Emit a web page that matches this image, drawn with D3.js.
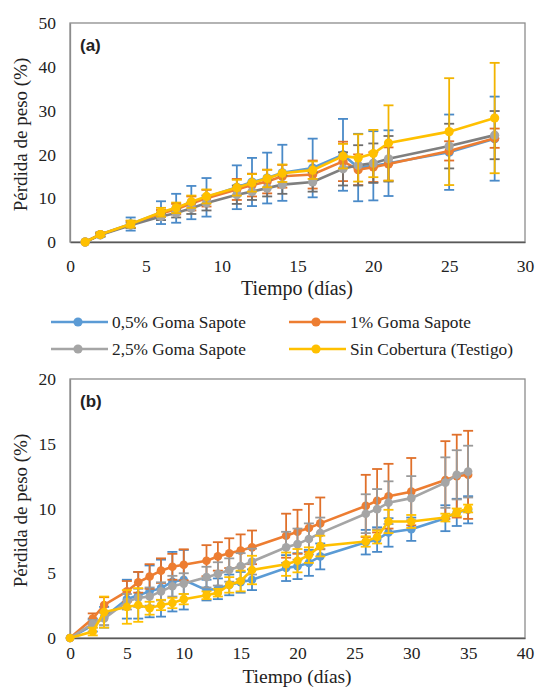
<!DOCTYPE html>
<html><head><meta charset="utf-8">
<script src="https://cdn.jsdelivr.net/npm/d3@7"></script>
<style>
body{margin:0;background:#fff;}
svg text{font-family:"Liberation Serif","Times New Roman",serif;fill:#222;}
</style></head><body>
<svg id="c" width="539" height="688"></svg>
<script>
// ---------- Panel (a) data ----------
const daysA = [1,2,4,6,7,8,9,11,12,13,14,16,18,19,20,21,25,28];
const a05 = [0,1.7,4.1,6.7,7.7,9.0,10.2,12.5,13.7,14.6,15.8,16.9,19.9,17.0,17.4,18.0,20.5,23.6];
const a05Err = [0,0.5,1.5,2.6,3.3,3.8,4.4,5.0,5.5,5.8,6.4,6.7,8.2,7.7,7.9,7.5,8.6,9.6];
const a1 = [0,1.7,4.0,6.5,7.5,8.8,10.0,12.0,13.0,13.8,15.0,15.4,18.4,16.5,17.1,17.8,20.8,23.7];
const a1Err = [0,0.4,0.8,0.8,1.2,1.6,1.9,2.4,2.6,2.7,2.6,3.2,4.5,3.5,3.4,3.8,2.2,2.2];
const a25 = [0,1.6,3.8,5.8,6.6,7.7,8.9,10.8,11.5,12.3,13.1,13.7,16.7,17.5,18.0,19.0,21.9,24.4];
const a25Err = [0,0.3,0.6,0.8,1.0,1.3,1.7,2.1,1.9,1.9,2.1,2.2,3.8,4.6,4.5,5.2,5.1,5.5];
const aTest = [0,1.7,4.1,6.8,7.8,9.2,10.4,12.4,13.5,14.5,15.7,16.4,19.6,19.2,20.2,22.6,25.2,28.3];
const aTestErr = [0,0.4,0.8,1.0,1.2,1.4,1.6,1.8,2.0,2.0,2.0,2.0,2.8,5.4,5.4,8.6,12.2,12.6];
const xTicksA = [0,5,10,15,20,25,30];
const yTicksA = [0,10,20,30,40,50];

// ---------- Panel (b) data ----------
const daysB = [0,2,3,5,6,7,8,9,10,12,13,14,15,16,19,20,21,22,26,27,28,30,33,34,35];
const b05 = [0,1.0,1.6,3.0,3.3,3.6,3.85,4.35,4.5,3.7,3.8,4.1,4.3,4.5,5.4,5.55,5.8,6.3,7.4,7.6,8.15,8.4,9.25,9.7,9.9];
const b05Err = [0,0.5,0.8,1.5,1.8,2.0,2.2,2.3,2.3,0.8,0.8,0.8,0.8,0.8,1.0,1.0,1.0,1.0,0.95,0.95,1.1,0.9,1.0,1.05,1.05];
const b1 = [0,1.5,2.55,3.6,4.3,4.75,5.2,5.5,5.65,5.97,6.3,6.55,6.75,7.0,7.9,8.2,8.5,8.85,10.2,10.6,10.95,11.3,12.2,12.5,12.6];
const b1Err = [0,0.4,0.6,0.8,0.8,0.95,0.95,1.0,1.2,1.2,1.1,1.15,1.25,1.3,1.7,1.7,1.85,2.0,2.4,2.45,2.5,2.6,3.0,3.2,3.4];
const b25 = [0,1.1,1.5,2.8,3.1,3.2,3.6,4.0,4.2,4.7,4.95,5.25,5.55,5.9,7.0,7.25,7.65,8.1,9.6,9.95,10.45,10.8,12.0,12.6,12.85];
const b25Err = [0,0.3,0.5,0.6,0.7,0.7,0.7,0.8,0.8,0.8,0.9,0.9,1.0,1.0,1.2,1.2,1.2,1.2,1.5,1.55,1.65,1.7,1.95,1.9,2.0];
const bTest = [0,0.5,2.0,2.4,2.55,2.3,2.55,2.7,3.0,3.3,3.5,4.1,4.4,5.25,5.7,5.97,6.4,7.1,7.45,7.8,9.0,9.0,9.3,9.7,10.0];
const bTestErr = [0,0.3,1.2,1.3,1.3,0.5,0.4,0.4,0.4,0.3,0.3,0.6,0.8,1.1,0.9,0.9,0.6,0.8,0.4,0.5,0.9,0.5,0.3,0.3,0.3];
const xTicksB = [0,5,10,15,20,25,30,35,40];
const yTicksB = [0,5,10,15,20];

const seriesNames = ["0,5% Goma Sapote","1% Goma Sapote","2,5% Goma Sapote","Sin Cobertura (Testigo)"];
const colors = ["#5B9BD5","#ED7D31","#A5A5A5","#FFC000"];
const errColorsA = ["#4A8AC8","#E0702A","#6E6E6E","#F2B400"];
const lineColorsA = ["#5B9BD5","#ED7D31","#7F7F7F","#FFC000"];
const errColorsB = ["#4A8AC8","#E0702A","#9A9A9A","#FFC000"];

const svg = d3.select("#c");

function panel(opt){
  const g = svg.append("g");
  const x = d3.scaleLinear().domain(opt.xDom).range([70,525]);
  const y = d3.scaleLinear().domain(opt.yDom).range([opt.bottom, opt.top]);
  g.append("rect").attr("x",70).attr("y",opt.top).attr("width",455).attr("height",opt.bottom-opt.top)
   .attr("fill","none").attr("stroke","#8c8c8c").attr("stroke-width",1.3);
  const xa = g.append("g").attr("transform",`translate(0,${opt.bottom})`)
    .call(d3.axisBottom(x).tickValues(opt.xTicks).tickSize(0).tickPadding(opt.tickPad).tickFormat(d3.format("d")));
  xa.select(".domain").attr("stroke","#595959").attr("stroke-width",1.3);
  xa.selectAll("text").style("font-size","17.5px").attr("fill","#222");
  const ya = g.append("g").attr("transform","translate(70,0)")
    .call(d3.axisLeft(y).tickValues(opt.yTicks).tickSize(0).tickPadding(14).tickFormat(d3.format("d")));
  ya.select(".domain").attr("stroke","#8c8c8c").attr("stroke-width",1.3);
  ya.selectAll("text").style("font-size","17.5px").attr("fill","#222");
  g.append("text").attr("x",297).attr("y",opt.bottom+opt.titleOff).attr("text-anchor","middle")
    .style("font-size",opt.titleSize).text("Tiempo (días)");
  g.append("text").attr("transform",`translate(27,${(opt.top+opt.bottom)/2+2}) rotate(-90)`)
    .attr("text-anchor","middle").style("font-size","19px").text("Pérdida de peso (%)");
  g.append("text").attr("x",80).attr("y",opt.top+28).style("font-family","'Liberation Sans',Arial,sans-serif")
    .style("font-weight","bold").style("font-size","17px").attr("fill","#111").text(opt.label);

  const line = d3.line().x(d=>x(d[0])).y(d=>y(d[1]));
  opt.series.forEach((s,i)=>{
    const pts = opt.days.map((d,j)=>[d,s.v[j],s.e[j]]);
    const sg = g.append("g");
    const eb = sg.append("g").attr("stroke",opt.errColors[i]).attr("stroke-width",1.8).attr("fill","none");
    pts.filter(p=>p[2]>0).forEach(p=>{
      const cx=x(p[0]), y1=y(p[1]+p[2]), y2=y(p[1]-p[2]);
      eb.append("line").attr("x1",cx).attr("x2",cx).attr("y1",y1).attr("y2",y2);
      eb.append("line").attr("x1",cx-5).attr("x2",cx+5).attr("y1",y1).attr("y2",y1);
      eb.append("line").attr("x1",cx-5).attr("x2",cx+5).attr("y1",y2).attr("y2",y2);
    });
    sg.append("path").datum(pts).attr("d",line).attr("fill","none")
      .attr("stroke",opt.lineColors[i]).attr("stroke-width",2.6);
    sg.selectAll("circle").data(pts).join("circle").attr("cx",p=>x(p[0])).attr("cy",p=>y(p[1]))
      .attr("r",opt.r).attr("fill",colors[i]);
  });
}

panel({xDom:[0,30],yDom:[0,50],top:23,bottom:242,xTicks:xTicksA,yTicks:yTicksA,label:"(a)",days:daysA,r:4.6,
  tickPad:18,titleOff:53,titleSize:"20px",
  errColors:errColorsA,lineColors:lineColorsA,
  series:[{v:a05,e:a05Err},{v:a1,e:a1Err},{v:a25,e:a25Err},{v:aTest,e:aTestErr}]});
panel({xDom:[0,40],yDom:[0,20],top:379,bottom:638,xTicks:xTicksB,yTicks:yTicksB,label:"(b)",days:daysB,r:4.3,
  tickPad:9,titleOff:45,titleSize:"19.5px",
  errColors:errColorsB,lineColors:colors,
  series:[{v:b05,e:b05Err},{v:b1,e:b1Err},{v:b25,e:b25Err},{v:bTest,e:bTestErr}]});

const lg = svg.append("g");
const legPos = [[51,322],[289,322],[51,349],[289,349]];
seriesNames.forEach((n,i)=>{
  const [lx,ly]=legPos[i];
  lg.append("line").attr("x1",lx).attr("x2",lx+57).attr("y1",ly).attr("y2",ly)
    .attr("stroke",colors[i]).attr("stroke-width",2.6);
  lg.append("circle").attr("cx",lx+27).attr("cy",ly).attr("r",4.6).attr("fill",colors[i]);
  lg.append("text").attr("x",lx+61).attr("y",ly+6).style("font-size","17.3px").text(n);
});
</script>
</body></html>
